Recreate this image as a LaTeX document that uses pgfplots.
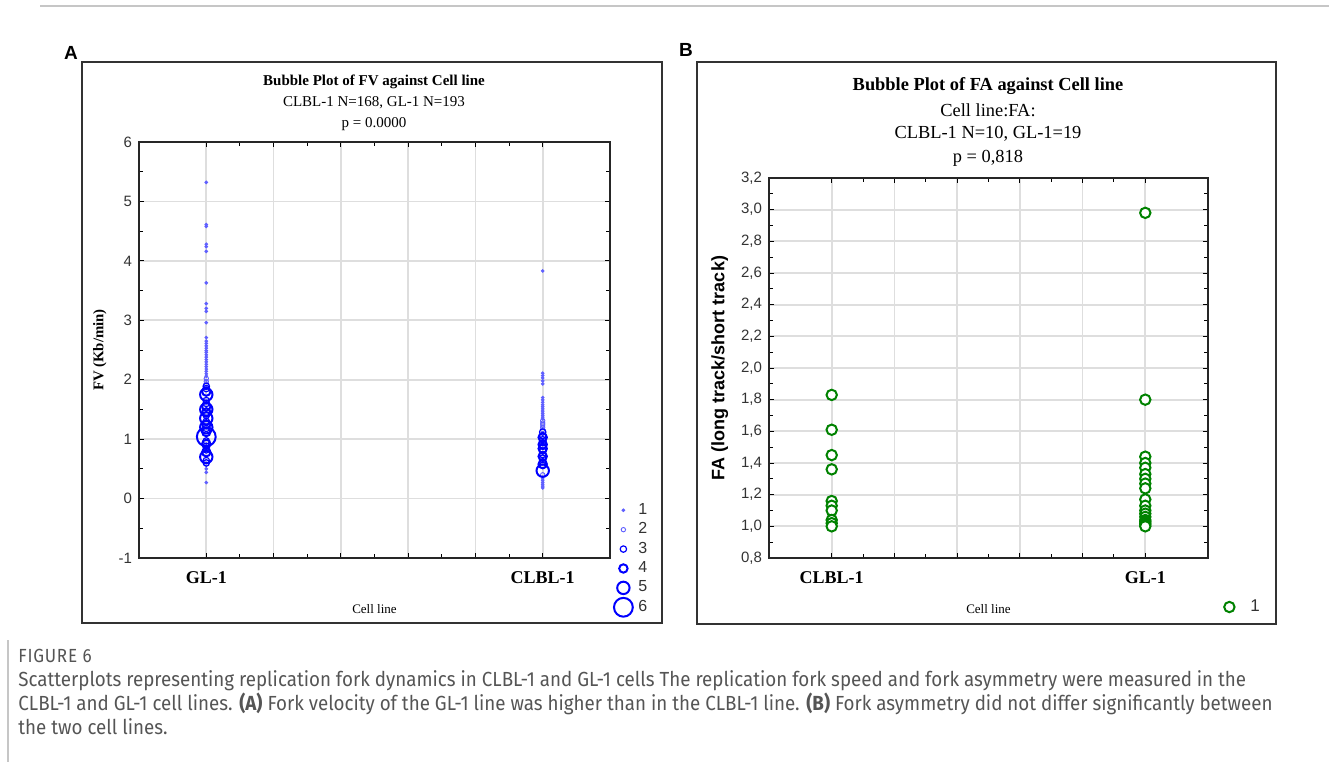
\documentclass[border=0pt]{standalone}
\usepackage{fontspec}
\setmainfont{Liberation Serif}
\newfontfamily\arial{Liberation Sans}
\newfontfamily\capfont[FakeStretch=0.92]{Fira Sans}
\newfontfamily\figfont[FakeStretch=0.9,LetterSpace=4]{Fira Sans}
\usepackage{pgfplots}
\pgfplotsset{compat=1.18}
\definecolor{gridc}{RGB}{222,222,222}
\definecolor{bblue}{RGB}{0,0,255}
\definecolor{lblue}{RGB}{95,95,255}
\definecolor{fgreen}{RGB}{0,130,0}
\definecolor{capgray}{RGB}{85,85,85}
\definecolor{framegray}{RGB}{50,50,50}
\begin{document}
\begin{tikzpicture}
\path[use as bounding box] (0,0) rectangle (664.5pt,381pt);
\begin{scope}[x=0.5pt,y=-0.5pt,yshift=381pt]
 \draw[gray!45, line width=0.6pt] (40,6) -- (1329,6);
 \draw[gray!45, line width=0.6pt] (8,640) -- (8,762);
 \draw[framegray, line width=0.7pt] (82,62) rectangle (662,623);
 \draw[framegray, line width=0.7pt] (697,62) rectangle (1276,624);
 \node[font=\arial\bfseries\fontsize{9.5}{11}\selectfont] at (71,53) {A};
 \node[font=\arial\bfseries\fontsize{9.5}{11}\selectfont] at (686,50) {B};
 % titles A
 \node[font=\bfseries\fontsize{7.5}{9}\selectfont] at (374,82) {Bubble Plot of FV against Cell line};
 \node[font=\fontsize{7.5}{9}\selectfont] at (374,103) {CLBL-1 N=168, GL-1 N=193};
 \node[font=\fontsize{7.5}{9}\selectfont] at (374,124) {p = 0.0000};
 % titles B
 \node[font=\bfseries\fontsize{9.2}{11}\selectfont] at (988,86) {Bubble Plot of FA against Cell line};
 \node[font=\fontsize{9.2}{11}\selectfont] at (988,110) {Cell line:FA:};
 \node[font=\fontsize{9.2}{11}\selectfont] at (988,134) {CLBL-1 N=10, GL-1=19};
 \node[font=\fontsize{9.2}{11}\selectfont] at (988,158) {p = 0,818};
 % caption
 \node[anchor=base west, inner sep=0pt, font=\figfont\fontsize{9.5}{11}\selectfont, text=capgray] at (18,662) {FIGURE 6};
 \node[anchor=base west, inner sep=0pt, font=\capfont\fontsize{10.2}{12}\selectfont, text=capgray] at (18,686) {Scatterplots representing replication fork dynamics in CLBL-1 and GL-1 cells The replication fork speed and fork asymmetry were measured in the};
 \node[anchor=base west, inner sep=0pt, font=\capfont\fontsize{10.2}{12}\selectfont, text=capgray] at (18,710) {CLBL-1 and GL-1 cell lines. {\bfseries (A)} Fork velocity of the GL-1 line was higher than in the CLBL-1 line. {\bfseries (B)} Fork asymmetry did not differ significantly between};
 \node[anchor=base west, inner sep=0pt, font=\capfont\fontsize{10.2}{12}\selectfont, text=capgray] at (18,734) {the two cell lines.};
\end{scope}

\pgfplotsset{
 myax/.style={
  anchor=south west, scale only axis, clip=false,
  xmin=0, xmax=7, xtick={1,2,3,4,5,6},
  minor x tick num=1, minor y tick num=1,
  tick align=inside, major tick length=2.5pt, minor tick length=2pt,
  xmajorgrids, ymajorgrids, grid style={gridc, line width=0.9pt},
  axis line style={line width=0.75pt, black!85},
  every tick/.style={black, line width=0.5pt},
  xticklabel style={font=\bfseries\fontsize{9}{10}\selectfont, yshift=-3.5pt},
  /pgf/number format/assume math mode=true,
  xlabel={Cell line},
  xlabel style={font=\fontsize{6.5}{8}\selectfont, at={(axis description cs:0.5,0)}, anchor=center, yshift=-25.5pt},
  legend cell align=left,
 }
}

% ---------------- Panel A ----------------
\begin{axis}[myax,
 at={(69.5pt,102pt)}, width=235.5pt, height=208pt,
 ymin=-1, ymax=6, ytick={-1,0,1,2,3,4,5,6},
 xticklabels={GL-1,,,,,CLBL-1},
 yticklabel style={font=\arial\fontsize{7.5}{9}\selectfont, text=black!80},
 ylabel={FV (Kb/min)},
 ylabel style={font=\bfseries\fontsize{7.4}{9}\selectfont, at={(axis description cs:-0.083,0.5)}, anchor=center},
 legend style={at={(1.0106,0.139)}, anchor=north west, draw=none, fill=none,
   font=\arial\fontsize{8}{9}\selectfont, text=black!80, row sep=0pt, inner sep=0pt,
   nodes={inner sep=0pt, anchor=west, draw=none}},
 legend image code/.code={\path[draw=none,fill=none] (0pt,-4.85pt) rectangle (11.5pt,4.85pt); \draw[overlay,#1] plot coordinates {(4pt,0pt)};},
]
% size 1
\addplot[only marks, mark=*, mark size=0.7pt, mark options={draw=lblue, fill=lblue}] coordinates {
 (1,5.32) (1,4.61) (1,4.58) (1,4.28) (1,4.24) (1,4.16) (1,3.63) (1,3.28) (1,3.20) (1,3.15)
 (1,2.96) (1,2.71) (1,2.65) (1,2.61) (1,2.57) (1,2.53) (1,2.49) (1,2.46) (1,2.42) (1,2.38)
 (1,2.34) (1,2.30) (1,2.26) (1,2.22) (1,2.18) (1,2.14) (1,2.10) (1,2.06) (1,0.50) (1,0.44) (1,0.27)
 (6,3.83) (6,2.11) (6,2.07) (6,2.03) (6,1.98) (6,1.93) (6,1.70) (6,1.66) (6,1.62) (6,1.58)
 (6,1.55) (6,1.52) (6,1.49) (6,1.46) (6,1.43) (6,1.40) (6,1.37) (6,1.34) (6,0.36) (6,0.33)
 (6,0.30) (6,0.27) (6,0.24) (6,0.21) (6,0.18)
};
\addlegendentry{1}
% size 2
\addplot[only marks, mark=o, mark size=1.1pt, mark options={draw=lblue, line width=0.45pt}] coordinates {
 (1,2.02) (1,1.97) (1,1.93) (1,0.58)
 (6,1.31) (6,1.27) (6,1.24) (6,1.20) (6,1.16) (6,0.40)
};
\addlegendentry{2}
% size 3
\addplot[only marks, mark=o, mark size=1.6pt, mark options={draw=bblue, line width=0.6pt}] coordinates {
 (1,1.89) (1,1.85) (1,1.65) (1,1.60) (1,1.40) (1,1.30) (1,1.18) (1,0.97) (1,0.88) (1,0.82) (1,0.64) (1,0.60)
 (6,1.12) (6,1.06) (6,0.99) (6,0.94) (6,0.88) (6,0.80) (6,0.74) (6,0.68) (6,0.62) (6,0.56)
};
\addlegendentry{3}
% size 4
\addplot[only marks, mark=o, mark size=2.1pt, mark options={draw=bblue, line width=1pt}] coordinates {
 (1,1.80) (1,1.55) (1,1.45) (1,1.25) (1,1.12) (1,0.92) (1,0.78)
 (6,1.03) (6,0.91) (6,0.84) (6,0.71) (6,0.58)
};
\addlegendentry{4}
% size 5
\addplot[only marks, mark=o, mark size=3.1pt, mark options={draw=bblue, line width=1pt}] coordinates {
 (1,1.75) (1,1.50) (1,1.35) (1,1.20) (1,0.70)
 (6,0.47)
};
\addlegendentry{5}
% size 6
\addplot[only marks, mark=o, mark size=4.7pt, mark options={draw=bblue, line width=1pt}] coordinates {
 (1,1.04)
};
\addlegendentry{6}
\end{axis}

% ---------------- Panel B ----------------
\begin{axis}[myax,
 at={(384.5pt,102pt)}, width=219.5pt, height=190pt,
 ymin=0.8, ymax=3.2, ytick={0.8,1,1.2,1.4,1.6,1.8,2,2.2,2.4,2.6,2.8,3,3.2},
 xticklabels={CLBL-1,,,,,GL-1},
 yticklabel style={font=\arial\fontsize{7.5}{9}\selectfont, text=black!80,
   /pgf/number format/.cd, fixed, fixed zerofill, precision=1, use comma},
 ylabel={FA (long track/short track)},
 ylabel style={font=\arial\bfseries\fontsize{9}{11}\selectfont, at={(axis description cs:-0.112,0.5)}, anchor=center},
 legend style={at={(1.0296,-0.129)}, anchor=west, draw=none, fill=none,
   font=\arial\fontsize{8.5}{10}\selectfont, text=black!80, inner sep=0pt,
   nodes={inner sep=0pt, anchor=west, draw=none}},
 legend image code/.code={\path[draw=none,fill=none] (0pt,-4pt) rectangle (14.5pt,4pt); \draw[overlay,#1] plot coordinates {(4pt,0pt)};},
]
\addplot[only marks, mark=*, mark size=2.6pt, mark options={draw=fgreen, fill=white, line width=1pt}] coordinates {
 (1,1.83) (1,1.61) (1,1.45) (1,1.36) (1,1.16) (1,1.13) (1,1.10) (1,1.04) (1,1.02) (1,1.00)
 (6,2.98) (6,1.80) (6,1.44) (6,1.40) (6,1.37) (6,1.33) (6,1.30) (6,1.27) (6,1.24) (6,1.17)
 (6,1.13) (6,1.10) (6,1.08) (6,1.06) (6,1.04) (6,1.03) (6,1.02) (6,1.01) (6,1.00)
};
\addlegendentry{1}
\end{axis}
\end{tikzpicture}
\end{document}
